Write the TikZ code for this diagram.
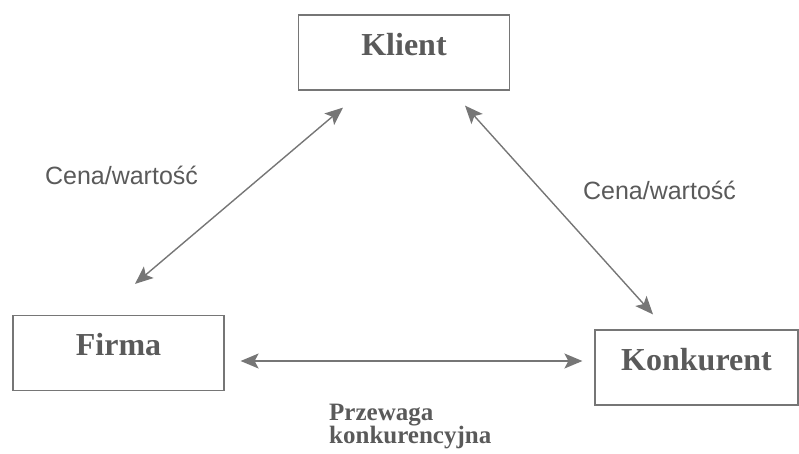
\documentclass[tikz,border=0pt]{standalone}
\usepackage{fontspec}
\setmainfont{Liberation Serif}
\newfontfamily\labelfont{Liberation Sans}
\usetikzlibrary{arrows.meta}
\definecolor{inkgray}{HTML}{5A5A5A}
\definecolor{linegray}{HTML}{767676}

\begin{document}
\begin{tikzpicture}
        [x=1pt,y=-1pt,
        >={Stealth[length=18pt,width=15pt,inset=4pt]},
        party/.style={draw=linegray,line width=1.2pt,inner sep=0pt,minimum width=211pt,
            text height=40pt,text depth=35pt,text=inkgray,font=\fontsize{32}{36}\selectfont\bfseries},
        link/.style={<->,draw=linegray,line width=1.4pt},
        note/.style={text=inkgray,inner sep=0pt,font=\labelfont\fontsize{25}{28}\selectfont}]
        \useasboundingbox (0,0) rectangle (799,453);
        \node[party] (klient) at (404,52.5) {Klient};
        \node[party] (firma) at (118.5,353) {Firma};
        \node[party,minimum width=203pt] (konkurent) at (696.5,367.5) {Konkurent};
        \draw[link] ([shift={(-61pt,-17pt)}]klient.south) -- ([shift={(16.5pt,31pt)}]firma.north);
        \draw[link] ([shift={(61pt,-15pt)}]klient.south) -- ([shift={(-43.5pt,15pt)}]konkurent.north);
        \draw[link] ([shift={(16pt,-8pt)}]firma.east) -- ([shift={(-12pt,6.5pt)}]konkurent.west);
        \node[note] (cenaL) at (121.5,175) {Cena/wartość};
        \node[note] (cenaR) at (659.5,190) {Cena/wartość};
        \node[note,anchor=north west,align=left,font=\fontsize{25}{23}\selectfont\bfseries] (przewaga)
            at (329,403.5) {Przewaga\\konkurencyjna};
\end{tikzpicture}
\end{document}
